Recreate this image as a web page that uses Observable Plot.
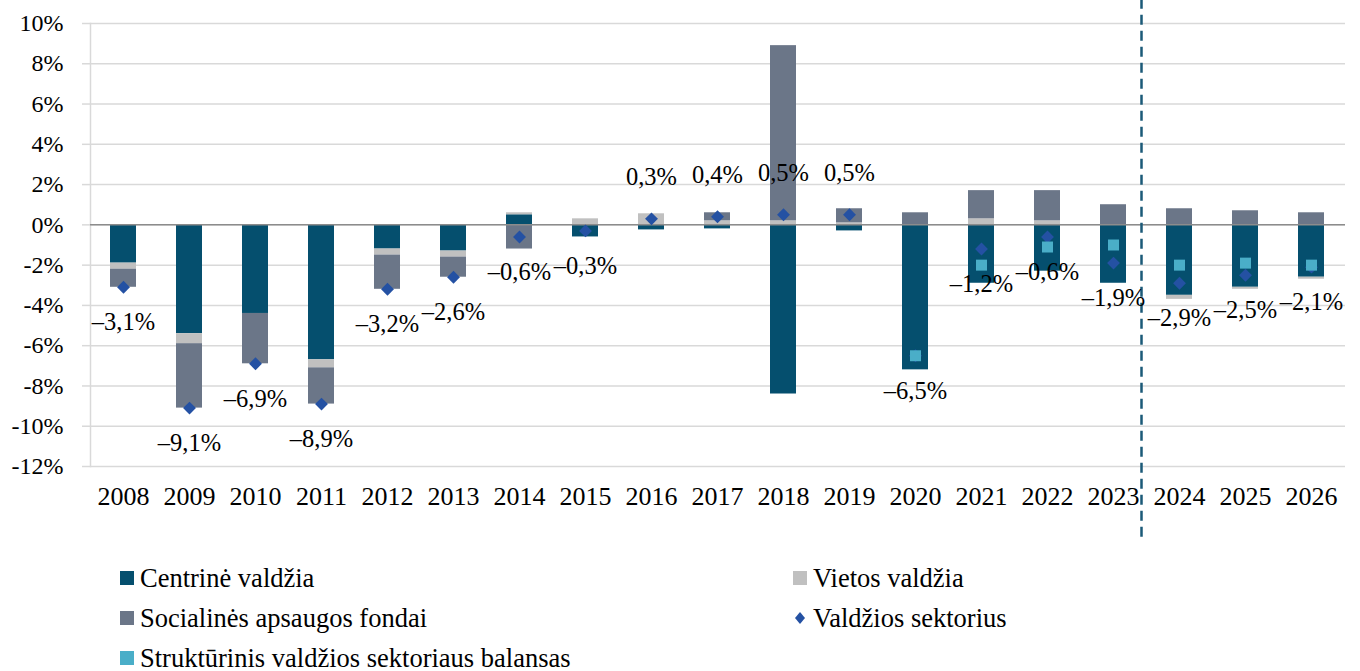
<!DOCTYPE html>
<html><head><meta charset="utf-8">
<script src="https://cdn.jsdelivr.net/npm/d3@7"></script>
<script src="https://cdn.jsdelivr.net/npm/@observablehq/plot@0.6"></script>
<style>
body{margin:0;background:#fff;font-family:"Liberation Serif","Times New Roman",serif;}
#legend{display:grid;grid-template-columns:673px auto;grid-auto-rows:40px;padding-left:120px;margin-top:8px;font-size:26.5px;color:#000}
.item{display:flex;align-items:center;white-space:nowrap}
.sw{width:14px;height:14px;margin-right:6px;flex:none}
.sw svg{display:block}
</style></head><body><div id="chart"></div><div id="legend"></div>
<script>
const years = ["2008","2009","2010","2011","2012","2013","2014","2015","2016","2017","2018","2019","2020","2021","2022","2023","2024","2025","2026"];
const centrine    = [-1.9,-5.4,-4.4,-6.7,-1.2,-1.3, 0.5,-0.6,-0.25,-0.2,-8.4,-0.3,-7.2,-2.9,-2.3,-2.9,-3.5,-3.1,-2.6];
const vietos      = [-0.3,-0.5, 0.0,-0.4,-0.3,-0.3, 0.1, 0.3, 0.55, 0.2, 0.2, 0.1, 0.0, 0.3, 0.2, 0.0,-0.2,-0.1,-0.1];
const socialines  = [-0.9,-3.2,-2.5,-1.8,-1.7,-1.0,-1.2, 0.0, 0.0, 0.4, 8.7, 0.7, 0.6, 1.4, 1.5, 1.0, 0.8, 0.7, 0.6];
const valdziosSektorius = [-3.1,-9.1,-6.9,-8.9,-3.2,-2.6,-0.6,-0.3,0.3,0.4,0.5,0.5,-6.5,-1.2,-0.6,-1.9,-2.9,-2.5,-2.1];
const strukturinisYears = ["2020","2021","2022","2023","2024","2025","2026"];
const strukturinis = [-6.5,-2.0,-1.1,-1.0,-2.0,-1.9,-2.0];
const seriesNames = ["Centrinė valdžia","Vietos valdžia","Socialinės apsaugos fondai","Valdžios sektorius","Struktūrinis valdžios sektoriaus balansas"];
const yTicks = [-12,-10,-8,-6,-4,-2,0,2,4,6,8,10];
const forecastStart = "2024";

const colors = {central:"#054f6e", local:"#c0c0c0", social:"#6b7688", total:"#2451a3", struct:"#4aaec8"};
const FONT = '"Liberation Serif","Times New Roman",serif';

const barData = [];
[centrine, vietos, socialines].forEach((arr, i) => arr.forEach((v, j) => barData.push({year: years[j], series: seriesNames[i], value: v})));
const totalData = years.map((y, j) => ({year: y, value: valdziosSektorius[j]}));
const structData = strukturinisYears.map((y, j) => ({year: y, value: strukturinis[j]}));
const fmt = v => (v < 0 ? "–" : "") + Math.abs(v).toFixed(1).replace(".", ",") + "%";

const chart = Plot.plot({
  width: 1360, height: 550,
  marginLeft: 90, marginRight: 15, marginTop: 23, marginBottom: 84,
  style: {fontFamily: FONT, fontSize: "24px", background: "#fff", color: "#000", overflow: "visible"},
  x: {domain: years, paddingInner: 0.6, paddingOuter: 0.3, label: null},
  y: {domain: [-12, 10], ticks: yTicks, label: null},
  color: {domain: seriesNames.slice(0,3), range: [colors.central, colors.local, colors.social]},
  marks: [
    Plot.gridY(yTicks, {stroke: "#d9d9d9", strokeOpacity: 1, strokeWidth: 1.5}),
    Plot.frame({anchor: "left", stroke: "#d9d9d9", strokeWidth: 1.5}),
    Plot.axisY({ticks: yTicks, tickSize: 8, tickPadding: 19, stroke: "#d9d9d9", strokeWidth: 1.5, fill: "#000", fontSize: 24, tickFormat: d => `${d}%`, label: null}),
    Plot.axisX({tickSize: 0, tickPadding: 20, fontSize: 26, fill: "#000", label: null}),
    Plot.barY(barData, {x: "year", y: "value", fill: "series"}),
    Plot.ruleY([0], {stroke: "#8c8c8c", strokeWidth: 1.5}),
    Plot.ruleX([forecastStart], {dx: -38, y1: 11.2, y2: -15.7, stroke: "#1b5a78", strokeWidth: 2.5, strokeDasharray: "10,6"}),
    Plot.dot(totalData, {x: "year", y: "value", symbol: "diamond2", r: 5.8, fill: colors.total, stroke: "none"}),
    Plot.dot(structData, {x: "year", y: "value", symbol: "square", r: 6.2, fill: colors.struct, stroke: "none"}),
    Plot.text(totalData.filter(d => d.value < 0), {x: "year", y: "value", text: d => fmt(d.value), dy: 35, fontSize: 24.5, fill: "#000"}),
    Plot.text(totalData.filter(d => d.value >= 0), {x: "year", y: "value", text: d => fmt(d.value), dy: -42, fontSize: 24.5, fill: "#000"})
  ]
});
document.getElementById("chart").appendChild(chart);

const legendItems = [
  {name: seriesNames[0], color: colors.central, shape: "sq"},
  {name: seriesNames[1], color: colors.local, shape: "sq"},
  {name: seriesNames[2], color: colors.social, shape: "sq"},
  {name: seriesNames[3], color: colors.total, shape: "dia"},
  {name: seriesNames[4], color: colors.struct, shape: "sq"}
];
const leg = document.getElementById("legend");
legendItems.forEach(it => {
  const d = document.createElement("div"); d.className = "item";
  const s = document.createElement("span"); s.className = "sw";
  if (it.shape === "sq") s.style.background = it.color;
  else s.innerHTML = `<svg width="14" height="14" viewBox="0 0 14 14"><path d="M7 1L12 7L7 13L2 7Z" fill="${it.color}"/></svg>`;
  d.appendChild(s);
  const t = document.createElement("span"); t.textContent = it.name;
  d.appendChild(t);
  leg.appendChild(d);
});
</script>
</body></html>
